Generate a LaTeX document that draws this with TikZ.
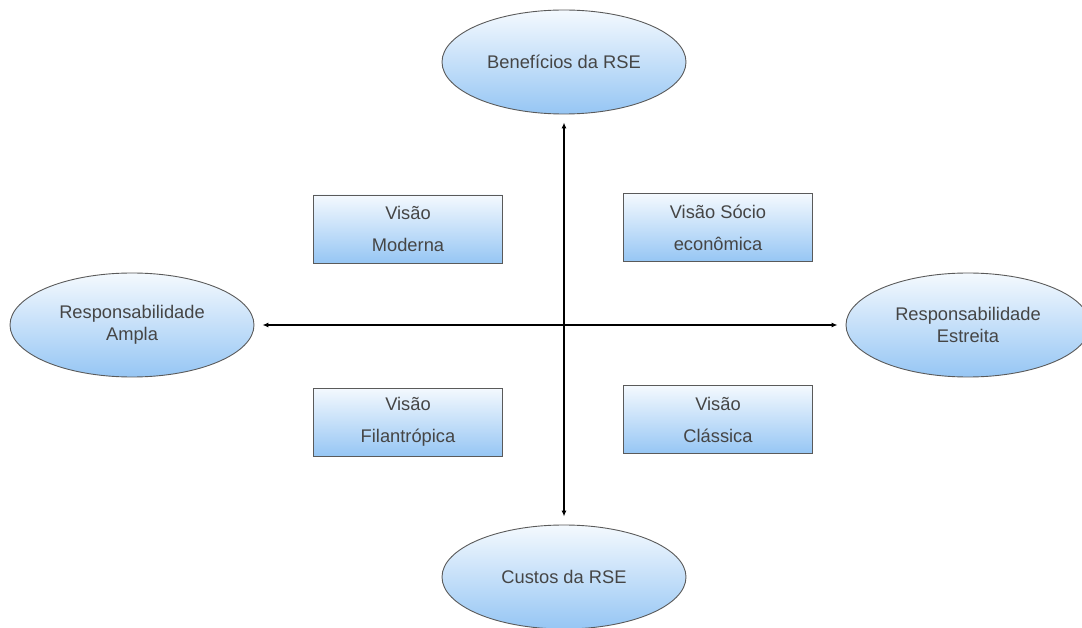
\documentclass[tikz,border=0pt]{standalone}
\usepackage{fontspec}
\setmainfont{Liberation Sans}
\usetikzlibrary{shapes.geometric,arrows.meta}
\definecolor{txt}{HTML}{454545}
\definecolor{edge}{HTML}{5A5A5A}
\definecolor{lightb}{HTML}{F4F9FE}
\definecolor{blueb}{HTML}{96C6F4}
\tikzset{
  oval/.style={ellipse, draw=edge, line width=0.9pt, top color=lightb, bottom color=blueb,
    minimum width=244pt, minimum height=104pt, inner sep=0pt, align=center,
    text=txt, font=\fontsize{18.3}{22}\selectfont},
  vbox/.style={rectangle, draw=edge, line width=0.9pt, top color=lightb, bottom color=blueb,
    minimum width=189pt, minimum height=68pt, inner sep=0pt, align=center,
    text=txt, font=\fontsize{18.3}{32}\selectfont},
  axis/.style={black, {Latex[length=6pt,width=5pt]}-{Latex[length=6pt,width=5pt]}, shorten <=8pt, shorten >=8pt}
}
\begin{document}
\begin{tikzpicture}[x=1pt,y=-1pt]
\useasboundingbox (0,0) rectangle (1082,628);
\fill[white] (0,0) rectangle (1082,628);
\node[oval] (ben) at (564,62) {Benefícios da RSE};
\node[oval] (cus) at (564,577) {Custos da RSE};
\node[oval] (amp) at (132,325) {Responsabilidade\\Ampla};
\node[oval] (est) at (968,325) {Responsabilidade\\Estreita};
\node[vbox] (mod) at (408,229) {Visão\\Moderna};
\node[vbox] (soc) at (718,227.5) {Visão Sócio\\econômica};
\node[vbox] (fil) at (408,422) {Visão\\Filantrópica};
\node[vbox] (cla) at (718,419.5) {Visão\\Clássica};
\draw[axis, line width=1.6pt] (ben) -- (cus);
\draw[axis, line width=2.4pt] (amp) -- (est);
\end{tikzpicture}
\end{document}
